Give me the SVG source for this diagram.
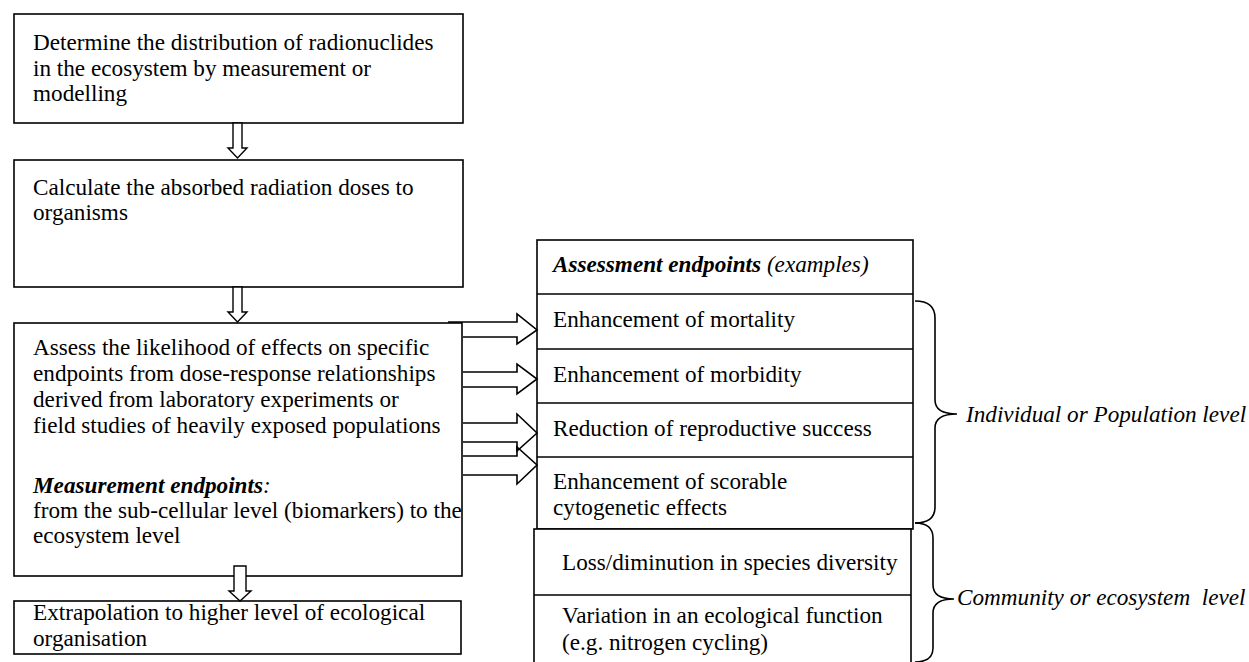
<svg xmlns="http://www.w3.org/2000/svg" width="1249" height="662" viewBox="0 0 1249 662">
  <style>
    .box { fill: #fff; stroke: #000; stroke-width: 1.6; }
    .cell { fill: none; stroke: #000; stroke-width: 1.6; }
    .arrow { fill: #fff; stroke: #000; stroke-width: 1.4; stroke-linejoin: miter; }
    .harrow { fill: none; stroke: #000; stroke-width: 1.6; stroke-linejoin: miter; }
    .brace { fill: none; stroke: #000; stroke-width: 1.6; }
    text { font-family: "Liberation Serif", "Times New Roman", serif; font-size: 23.2px; fill: #000; }
    .bi { font-weight: bold; font-style: italic; }
    .it { font-style: italic; }
    .pre { white-space: pre; }
  </style>

  <rect width="1249" height="662" fill="#fff"/>

  <!-- left column: process steps -->
  <g id="step-distribution">
    <rect class="box" x="14" y="14" width="449" height="109"/>
    <text x="33" y="50">Determine the distribution of radionuclides</text>
    <text x="33" y="76">in the ecosystem by measurement or</text>
    <text x="33" y="101">modelling</text>
  </g>

  <g id="step-dose">
    <rect class="box" x="14" y="160" width="449" height="127"/>
    <text x="33" y="195">Calculate the absorbed radiation doses to</text>
    <text x="33" y="220">organisms</text>
  </g>

  <g id="step-assess">
    <rect class="box" x="14" y="323" width="448" height="253"/>
    <text x="33" y="355">Assess the likelihood of effects on specific</text>
    <text x="33" y="381">endpoints from dose-response relationships</text>
    <text x="33" y="407">derived from laboratory experiments or</text>
    <text x="33" y="433">field studies of heavily exposed populations</text>
    <text x="33" y="493"><tspan class="bi">Measurement endpoints</tspan><tspan class="it">:</tspan></text>
    <text x="33" y="518">from the sub-cellular level (biomarkers) to the</text>
    <text x="33" y="543">ecosystem level</text>
  </g>

  <g id="step-extrapolation">
    <rect class="box" x="14" y="601" width="447" height="53"/>
    <text x="33" y="620">Extrapolation to higher level of ecological</text>
    <text x="33" y="646">organisation</text>
  </g>

  <!-- right column: assessment endpoint table -->
  <g id="endpoints-individual">
    <rect class="box" x="537" y="240" width="376" height="289"/>
    <line class="cell" x1="537" y1="294" x2="913" y2="294"/>
    <line class="cell" x1="537" y1="349" x2="913" y2="349"/>
    <line class="cell" x1="537" y1="403" x2="913" y2="403"/>
    <line class="cell" x1="537" y1="457" x2="913" y2="457"/>
    <text x="553" y="272"><tspan class="bi">Assessment endpoints</tspan><tspan class="it"> (examples)</tspan></text>
    <text x="553" y="327">Enhancement of mortality</text>
    <text x="553" y="382">Enhancement of morbidity</text>
    <text x="553" y="436">Reduction of reproductive success</text>
    <text x="553" y="489">Enhancement of scorable</text>
    <text x="553" y="515">cytogenetic effects</text>
  </g>

  <g id="endpoints-community">
    <rect class="box" x="534" y="529" width="377" height="140"/>
    <line class="cell" x1="534" y1="595" x2="911" y2="595"/>
    <text x="562" y="570">Loss/diminution in species diversity</text>
    <text x="562" y="623">Variation in an ecological function</text>
    <text x="562" y="650">(e.g. nitrogen cycling)</text>
  </g>

  <!-- level braces and labels -->
  <g id="level-individual">
    <path class="brace" d="M915,301 Q935,301 935,318 L935,400 Q935,414 957,414 Q935,414 935,428 L935,507 Q935,523 915,523"/>
    <text class="it" x="966" y="422">Individual or Population level</text>
  </g>

  <g id="level-community">
    <path class="brace" d="M915,523 Q933,523 933,538 L933,585 Q933,599 954,599 Q933,599 933,613 L933,648 Q933,662 915,662"/>
    <text class="it pre" x="957" y="605">Community or ecosystem  level</text>
  </g>

  <!-- connectors -->
  <g id="connectors">
    <!-- vertical block arrows between steps -->
    <polygon class="arrow" points="233,123 242,123 242,148 247,148 237.5,158 228,148 233,148"/>
    <polygon class="arrow" points="233,287 242,287 242,312 247,312 237.5,322 228,312 233,312"/>
    <polygon class="arrow" points="234,566 246,566 246,591 251,591 240,601 229,591 234,591"/>

    <!-- horizontal block arrows into the endpoint table -->
    <polyline class="harrow" points="448,322 517,322 517,314 537,330 517,344 517,337 463,337"/>
    <polyline class="harrow" points="463,372 517,372 517,364 537,379 517,394 517,387 463,387"/>
    <polyline class="harrow" points="463,423 517,423 517,414 537,433 517,451 517,442 463,442"/>
    <polyline class="harrow" points="463,456 517,456 517,447 537,465 517,484 517,475 463,475"/>
  </g>
</svg>
